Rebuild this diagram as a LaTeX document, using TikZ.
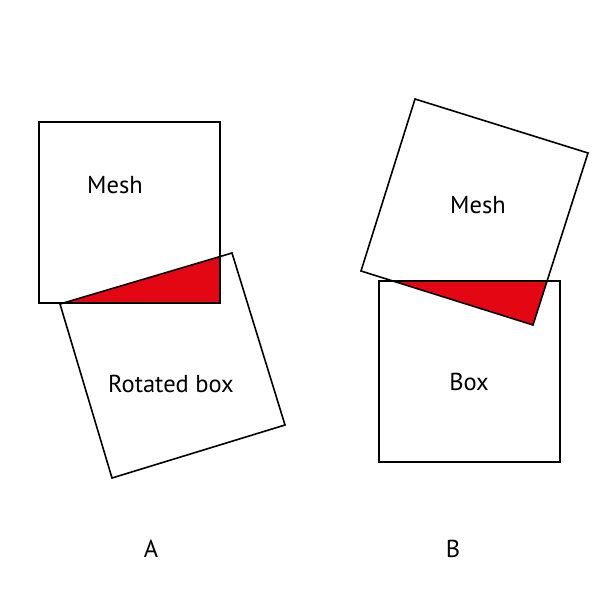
\documentclass[tikz,border=0pt]{standalone}
\usepackage{fontspec}
\setmainfont{PT Sans}
\usepackage{xcolor}
\definecolor{overlap}{HTML}{E30613}
\definecolor{ink}{HTML}{000000}

\begin{document}
\begin{tikzpicture}[x=1pt,y=-1pt,
  outline/.style={draw=ink,line width=1.6pt,line join=miter},
  lbl/.style={font=\fontsize{24.5}{28}\selectfont,text=ink}]
\useasboundingbox (0,0) rectangle (600,600);
% A: axis aligned mesh, rotated box
\coordinate (ma1) at (39,122);  \coordinate (ma2) at (220,122);
\coordinate (ma3) at (220,303); \coordinate (ma4) at (39,303);
\coordinate (ba1) at (60,304);  \coordinate (ba2) at (232,253);
\coordinate (ba3) at (285,425); \coordinate (ba4) at (112,478);
\begin{scope}
\clip (ba1) -- (ba2) -- (ba3) -- (ba4) -- cycle;
\fill[overlap] (ma1) -- (ma2) -- (ma3) -- (ma4) -- cycle;
\end{scope}
\draw[outline] (ma1) -- (ma2) -- (ma3) -- (ma4) -- cycle;
\draw[outline] (ba1) -- (ba2) -- (ba3) -- (ba4) -- cycle;
\node[lbl] (meshA) at (115,185) {Mesh};
\node[lbl] (boxA) at (171,384) {Rotated box};
\node[lbl] (capA) at (151,549) {A};
% B: rotated mesh, axis aligned box
\coordinate (mb1) at (415,99);  \coordinate (mb2) at (588,153);
\coordinate (mb3) at (533,325); \coordinate (mb4) at (361,271);
\coordinate (bb1) at (379,281); \coordinate (bb2) at (560,281);
\coordinate (bb3) at (560,462); \coordinate (bb4) at (379,462);
\begin{scope}
\clip (bb1) -- (bb2) -- (bb3) -- (bb4) -- cycle;
\fill[overlap] (mb1) -- (mb2) -- (mb3) -- (mb4) -- cycle;
\end{scope}
\draw[outline] (mb1) -- (mb2) -- (mb3) -- (mb4) -- cycle;
\draw[outline] (bb1) -- (bb2) -- (bb3) -- (bb4) -- cycle;
\node[lbl] (meshB) at (478,205) {Mesh};
\node[lbl] (boxB) at (469,382) {Box};
\node[lbl] (capB) at (453,549) {B};
\end{tikzpicture}
\end{document}
